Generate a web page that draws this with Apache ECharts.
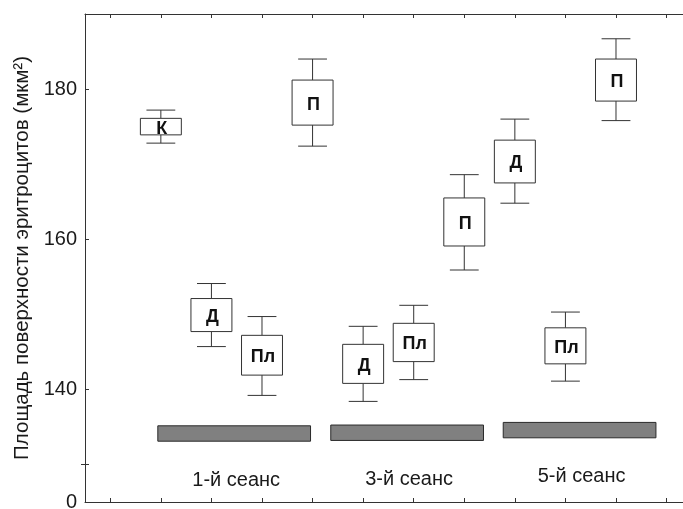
<!DOCTYPE html>
<html>
<head>
<meta charset="utf-8">
<script src="https://cdn.jsdelivr.net/npm/echarts@6/dist/echarts.min.js"></script>
<style>
html,body{margin:0;padding:0;background:#fff;}
#chart{width:683px;height:509px;}
</style>
</head>
<body>
<div id="chart"></div>
<script>
// ---- data ----
const boxLabels   = ['К', 'Д', 'Пл', 'П', 'Д', 'Пл', 'П', 'Д', 'Пл', 'П'];
const boxPos      = [1, 2, 3, 4, 5, 6, 7, 8, 9, 10];
const whiskerLow  = [172.8, 145.7, 139.2, 172.4, 138.4, 141.3, 155.9, 164.8, 141.1, 175.8];
const boxLow      = [173.9, 147.7, 141.9, 175.2, 140.8, 143.7, 159.1, 167.5, 143.4, 178.4];
const boxHigh     = [176.1, 152.1, 147.2, 181.2, 146.0, 148.8, 165.5, 173.2, 148.2, 184.0];
const whiskerHigh = [177.2, 154.1, 149.7, 184.0, 148.4, 151.2, 168.6, 176.0, 150.3, 186.7];

const sessionNames = ['1-й сеанс', '3-й сеанс', '5-й сеанс'];
const sessionStart = [0.94, 4.36, 7.77];
const sessionEnd   = [3.96, 7.38, 10.79];
const sessionLow   = [133.1, 133.2, 133.55];
const sessionHigh  = [135.15, 135.25, 135.6];

const yTickValues  = [130, 140, 160, 180];
const yLabelValues = [125, 140, 160, 180];
const yLabelText   = {125: '0', 140: '140', 160: '160', 180: '180'};
const xTickValues  = [0, 1, 2, 3, 4, 5, 6, 7, 8, 9, 10, 11];
const yTitle = 'Площадь поверхности эритроцитов (мкм²)';

// ---- build ----
const boxData = boxPos.map((p, i) => [p, whiskerLow[i], boxLow[i], boxHigh[i], whiskerHigh[i], boxLabels[i]]);
const sessData = sessionNames.map((n, i) => [sessionStart[i], sessionEnd[i], sessionLow[i], sessionHigh[i], n]);

const LINE = '#333';
const FONT = 'Liberation Sans, Arial, sans-serif';

const chart = echarts.init(document.getElementById('chart'), null, {renderer: 'canvas'});
const axisX = (pos) => ({
  type: 'value', position: pos, min: -0.5, max: 11.325,
  axisLine: {show: true, onZero: false, lineStyle: {color: LINE, width: 1}},
  axisTick: {show: true, inside: true, length: 4, customValues: xTickValues, lineStyle: {color: LINE}},
  axisLabel: {show: false},
  splitLine: {show: false}
});

chart.setOption({
  animation: false,
  backgroundColor: '#fff',
  grid: {left: 85, right: 0, top: 14, bottom: 7, containLabel: false, outerBoundsMode: 'none'},
  xAxis: [axisX('bottom'), axisX('top')],
  yAxis: [{
    type: 'value', min: 125, max: 190, position: 'left',
    axisLine: {show: true, onZero: false, lineStyle: {color: LINE, width: 1}},
    axisTick: {show: true, inside: true, length: 4, customValues: yTickValues, lineStyle: {color: LINE}},
    axisLabel: {show: true, customValues: yLabelValues, margin: 8, fontSize: 20, color: '#1a1a1a',
      fontFamily: FONT, formatter: v => yLabelText[v] !== undefined ? yLabelText[v] : ''},
    splitLine: {show: false},
    name: yTitle, nameLocation: 'middle', nameGap: 52,
    nameTextStyle: {fontSize: 20.5, color: '#1a1a1a', fontFamily: FONT}
  }, {
    type: 'value', min: 125, max: 190, position: 'left', offset: 0,
    axisLine: {show: false, onZero: false},
    axisTick: {show: true, inside: false, length: 4, customValues: [130], lineStyle: {color: LINE}},
    axisLabel: {show: false},
    splitLine: {show: false}
  }],
  series: [{
    type: 'custom',
    xAxisIndex: 0, yAxisIndex: 0,
    data: sessData,
    renderItem: function (params, api) {
      const p1 = api.coord([api.value(0), api.value(3)]);
      const p2 = api.coord([api.value(1), api.value(2)]);
      const cx = (p1[0] + p2[0]) / 2;
      return {
        type: 'group',
        children: [{
          type: 'rect',
          shape: {x: p1[0], y: p1[1], width: p2[0] - p1[0], height: p2[1] - p1[1]},
          style: {fill: '#808080', stroke: '#2a2a2a', lineWidth: 1}
        }, {
          type: 'text',
          style: {text: api.value(4), x: cx + 2, y: p2[1] + 39, align: 'center', verticalAlign: 'middle',
            font: '20px ' + FONT, fill: '#1a1a1a'}
        }]
      };
    }
  }, {
    type: 'custom',
    xAxisIndex: 0, yAxisIndex: 0,
    data: boxData,
    renderItem: function (params, api) {
      const x = api.value(0);
      const unit = api.size([1, 0])[0];
      const bw = unit * 0.81, cw = unit * 0.57;
      const wl = api.coord([x, api.value(1)]);
      const bl = api.coord([x, api.value(2)]);
      const bh = api.coord([x, api.value(3)]);
      const wh = api.coord([x, api.value(4)]);
      const cx = wl[0];
      const ls = {stroke: LINE, lineWidth: 1};
      return {
        type: 'group',
        children: [
          {type: 'line', shape: {x1: cx, y1: wh[1], x2: cx, y2: bh[1]}, style: ls},
          {type: 'line', shape: {x1: cx - cw / 2, y1: wh[1], x2: cx + cw / 2, y2: wh[1]}, style: ls},
          {type: 'line', shape: {x1: cx, y1: bl[1], x2: cx, y2: wl[1]}, style: ls},
          {type: 'line', shape: {x1: cx - cw / 2, y1: wl[1], x2: cx + cw / 2, y2: wl[1]}, style: ls},
          {type: 'rect', shape: {x: cx - bw / 2, y: bh[1], width: bw, height: bl[1] - bh[1]},
            style: {fill: '#fff', stroke: LINE, lineWidth: 1}},
          {type: 'text', style: {text: api.value(5), x: cx + 1, y: (bh[1] + bl[1]) / 2 + 2,
            align: 'center', verticalAlign: 'middle', font: 'bold 18px ' + FONT, fill: '#111'}}
        ]
      };
    }
  }]
});
</script>
</body>
</html>
